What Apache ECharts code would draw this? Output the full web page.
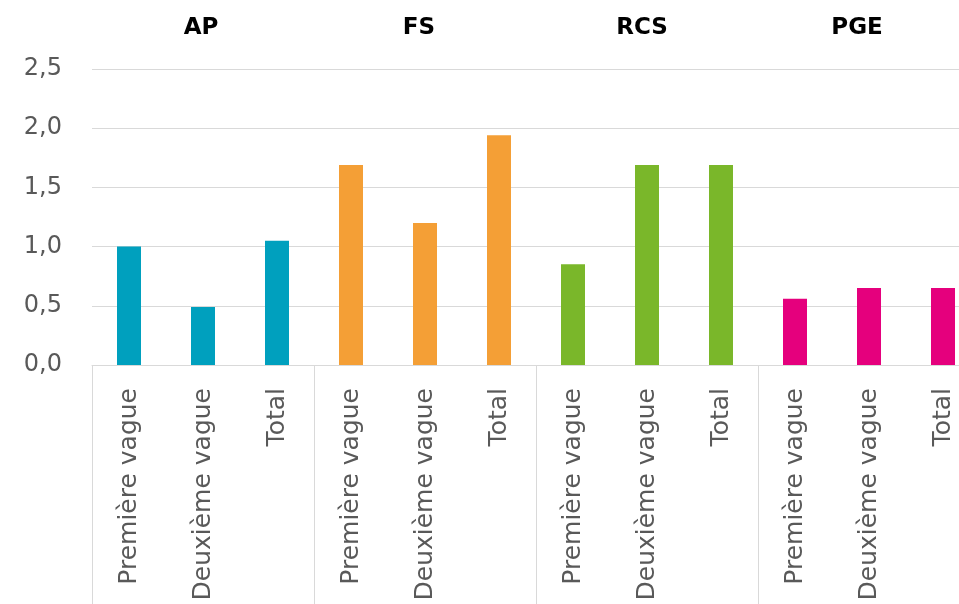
<!DOCTYPE html>
<html>
<head>
<meta charset="utf-8">
<script src="https://cdn.jsdelivr.net/npm/echarts@6/dist/echarts.min.js"></script>
<style>
  html, body { margin: 0; padding: 0; background: #fff; }
  #chart { width: 959px; height: 604px; }
</style>
</head>
<body>
<div id="chart"></div>
<script>
// groupes et catégories
const groups = ['AP', 'FS', 'RCS', 'PGE'];
const groupColors = ['#00A0BE', '#F49F36', '#7AB72A', '#E5007D'];
const categories = [
  'Première vague', 'Deuxième vague', 'Total',
  'Première vague', 'Deuxième vague', 'Total',
  'Première vague', 'Deuxième vague', 'Total',
  'Première vague', 'Deuxième vague', 'Total'
];
const values = [1.0, 0.49, 1.05, 1.69, 1.2, 1.94, 0.85, 1.69, 1.69, 0.56, 0.65, 0.65];
const yTicks = { min: 0, max: 2.5, interval: 0.5 };

const chart = echarts.init(document.getElementById('chart'));

// positions des titres de groupe (en px)
const titleX = [201, 419, 642, 857];

const option = {
  animation: false,
  grid: {
    left: 92,
    width: 888, // la zone dépasse à droite, comme dans l'original
    top: 69,
    bottom: 239,
    containLabel: false,
    outerBoundsMode: 'none'
  },
  graphic: groups.map((g, i) => ({
    type: 'text',
    x: titleX[i],
    y: 28,
    style: {
      text: g,
      fontFamily: 'DejaVu Sans',
      fontWeight: 'bold',
      fontSize: 23,
      fill: '#000',
      align: 'center',
      verticalAlign: 'middle'
    }
  })),
  xAxis: {
    type: 'category',
    data: categories,
    axisLine: { lineStyle: { color: '#d9d9d9', width: 1 } },
    axisTick: {
      show: true,
      // un séparateur tous les 3 (entre les groupes)
      interval: (i) => i % 3 === 0,
      length: 245,
      lineStyle: { color: '#d9d9d9', width: 1 }
    },
    axisLabel: {
      rotate: 90,
      interval: 0,
      margin: 23,
      color: '#595959',
      fontFamily: 'DejaVu Sans',
      fontSize: 25
    }
  },
  yAxis: {
    type: 'value',
    min: yTicks.min,
    max: yTicks.max,
    interval: yTicks.interval,
    axisLine: { show: false },
    axisTick: { show: false },
    splitLine: { lineStyle: { color: '#d9d9d9', width: 1 } },
    axisLabel: {
      margin: 30,
      color: '#595959',
      fontFamily: 'DejaVu Sans',
      fontSize: 24,
      formatter: v => v.toFixed(1).replace('.', ',')
    }
  },
  series: [{
    type: 'bar',
    barWidth: 24,
    data: values,
    itemStyle: {
      color: p => groupColors[Math.floor(p.dataIndex / 3)]
    }
  }]
};

chart.setOption(option);
</script>
</body>
</html>
